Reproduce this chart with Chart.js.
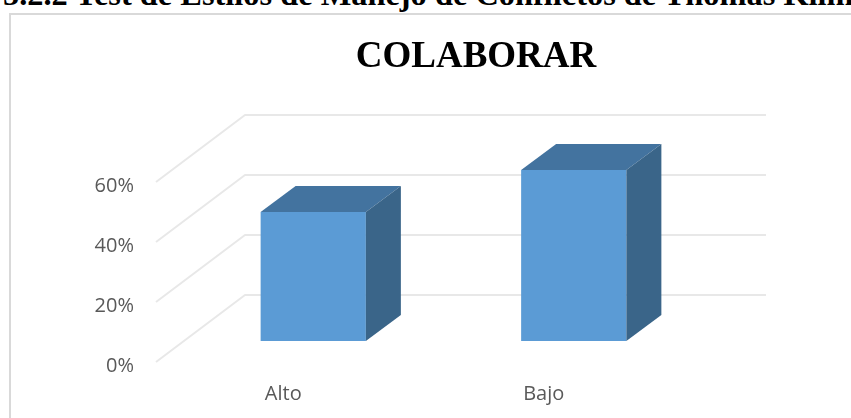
<!DOCTYPE html>
<html>
<head>
<meta charset="utf-8">
<style>
html,body{margin:0;padding:0;background:#fff;width:851px;height:418px;overflow:hidden;}
#wrap{position:relative;width:851px;height:418px;overflow:hidden;}
#heading{position:absolute;left:3px;top:-24px;white-space:nowrap;font:bold 32.4px "Liberation Serif",serif;color:#000;}
#frame{position:absolute;left:9px;top:13px;width:900px;height:500px;border:2px solid #d9d9d9;box-sizing:border-box;}
canvas{position:absolute;left:0;top:0;}
</style>
<script src="https://cdn.jsdelivr.net/npm/chart.js@4"></script>
</head>
<body>
<div id="wrap">
<div id="heading">5.2.2 Test de Estilos de Manejo de Conflictos de Thomas Kilmann</div>
<div id="frame"></div>
<canvas id="c" width="952" height="418"></canvas>
</div>
<script>
const categories = ["Alto", "Bajo"];
const colaborar = [43, 57];
const yTicks = [0, 20, 40, 60];

const wallFront = {dy: -4};
const wallDepth = {dx: 89, dy: -67};
const barShift = {dx: 27, dy: -25};
const barDepth = {dx: 35, dy: -26};

const depth3d = {
  id: 'depth3d',
  beforeDatasetsDraw(chart) {
    const {ctx, scales: {x, y}} = chart;
    ctx.save();
    ctx.strokeStyle = '#e8e8e8';
    ctx.lineWidth = 2;
    ctx.lineJoin = 'round';
    yTicks.forEach(v => {
      const py = y.getPixelForValue(v) + wallFront.dy;
      ctx.beginPath();
      ctx.moveTo(x.left, py);
      ctx.lineTo(x.left + wallDepth.dx, py + wallDepth.dy);
      ctx.lineTo(x.right + wallDepth.dx, py + wallDepth.dy);
      ctx.stroke();
    });
    ctx.restore();
    ctx.save();
    ctx.translate(barShift.dx, barShift.dy);
  },
  afterDatasetsDraw(chart) {
    const {ctx} = chart;
    chart.getDatasetMeta(0).data.forEach(bar => {
      const l = bar.x - bar.width / 2, r = bar.x + bar.width / 2;
      const t = bar.y, b = bar.base;
      ctx.fillStyle = '#43739f';
      ctx.beginPath();
      ctx.moveTo(l, t);
      ctx.lineTo(l + barDepth.dx, t + barDepth.dy);
      ctx.lineTo(r + barDepth.dx, t + barDepth.dy);
      ctx.lineTo(r, t);
      ctx.closePath();
      ctx.fill();
      ctx.fillStyle = '#3a6589';
      ctx.beginPath();
      ctx.moveTo(r, t);
      ctx.lineTo(r + barDepth.dx, t + barDepth.dy);
      ctx.lineTo(r + barDepth.dx, b + barDepth.dy);
      ctx.lineTo(r, b);
      ctx.closePath();
      ctx.fill();
    });
    ctx.restore();
  }
};

new Chart(document.getElementById('c'), {
  type: 'bar',
  data: {
    labels: categories,
    datasets: [{
      data: colaborar,
      yAxisID: 'y',
      backgroundColor: '#5b9bd5',
      borderWidth: 0,
      categoryPercentage: 1,
      barPercentage: 0.404,
      clip: false
    }]
  },
  plugins: [depth3d],
  options: {
    responsive: false,
    animation: false,
    layout: {padding: 0},
    plugins: {
      legend: {display: false},
      tooltip: {enabled: false},
      title: {
        display: true,
        text: 'COLABORAR',
        color: '#000',
        font: {family: '"Liberation Serif", serif', size: 37, weight: 'bold', lineHeight: '46px'},
        padding: {top: 34, bottom: 106}
      }
    },
    scales: {
      x: {
        grid: {display: false, drawTicks: false},
        border: {display: false},
        ticks: {color: '#595959', font: {family: '"Open Sans"', size: 20}, padding: 16, labelOffset: -3, maxRotation: 0},
        afterFit(s) { s.height = 52; }
      },
      y: {
        min: 0,
        max: 60,
        grid: {display: false, drawTicks: false},
        border: {display: false},
        afterBuildTicks(s) { s.ticks = yTicks.map(v => ({value: v})); },
        ticks: {color: '#595959', font: {family: '"Open Sans"', size: 20}, padding: 22, callback: v => v + '%'},
        afterFit(s) { s.width = 156; }
      },
      reserve: {
        position: 'right',
        grid: {display: false, drawTicks: false},
        border: {display: false},
        ticks: {display: false},
        afterFit(s) { s.width = 275; }
      }
    }
  }
});
</script>
</body>
</html>
